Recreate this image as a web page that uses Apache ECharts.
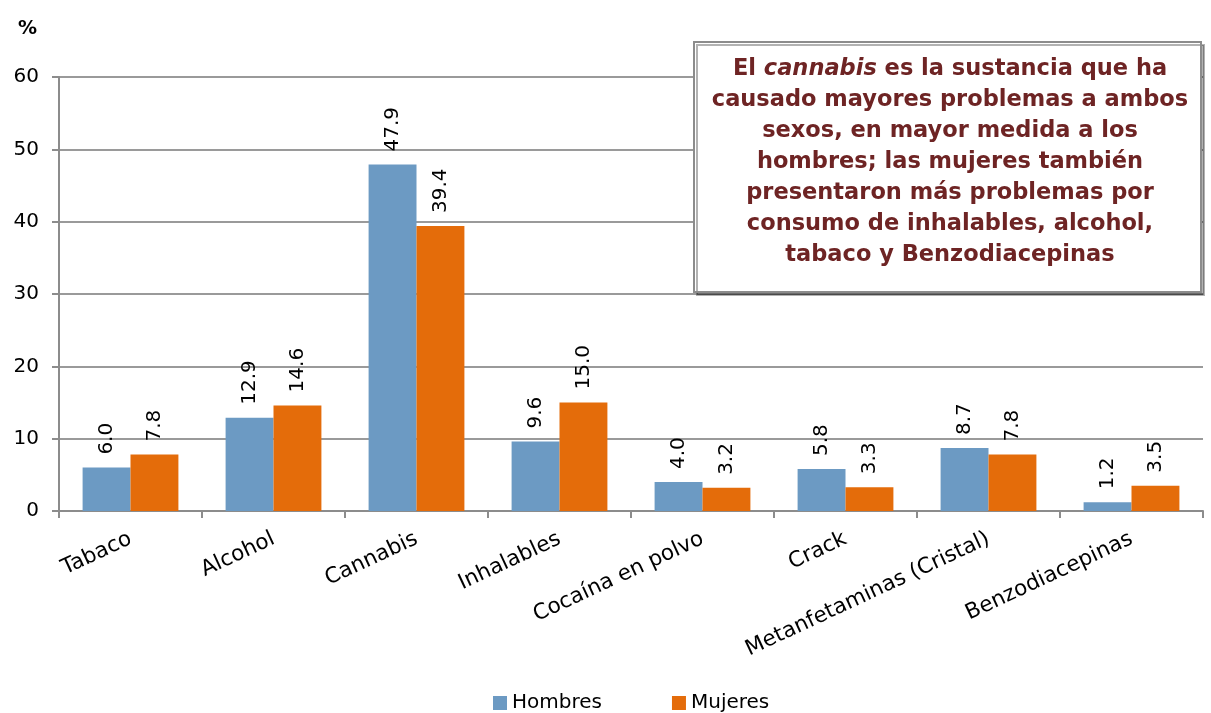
<!DOCTYPE html>
<html>
<head>
<meta charset="utf-8">
<script src="https://cdn.jsdelivr.net/npm/echarts@6/dist/echarts.min.js"></script>
<style>
html,body{margin:0;padding:0;background:#fff;}
#chart{width:1211px;height:713px;}
</style>
</head>
<body>
<div id="chart"></div>
<script>
var categories = ['Tabaco','Alcohol','Cannabis','Inhalables','Cocaína en polvo','Crack','Metanfetaminas (Cristal)','Benzodiacepinas'];
var hombres = [6.0, 12.9, 47.9, 9.6, 4.0, 5.8, 8.7, 1.2];
var mujeres = [7.8, 14.6, 39.4, 15.0, 3.2, 3.3, 7.8, 3.5];
var seriesNames = ['Hombres','Mujeres'];
var yTicks = {min: 0, max: 60, interval: 10};
var unitLabel = '%';
var boxLines = [
  'El {i|cannabis} es la sustancia que ha',
  'causado mayores problemas a ambos',
  'sexos, en mayor medida a los',
  'hombres; las mujeres también',
  'presentaron más problemas por',
  'consumo de inhalables, alcohol,',
  'tabaco y Benzodiacepinas'
];

var FONT = 'DejaVu Sans';
var chart = echarts.init(document.getElementById('chart'), null, {renderer:'canvas'});

function labelCfg(){
  return {
    show: true, position: 'top', rotate: 90, align: 'left', verticalAlign: 'middle',
    distance: 13, color: '#000', fontFamily: FONT, fontSize: 20,
    formatter: function(p){ return p.value.toFixed(1); }
  };
}

var option = {
  backgroundColor: '#fff',
  animation: false,
  title: {
    text: unitLabel, left: 13, top: 15,
    textStyle: {fontFamily: FONT, fontSize: 19, fontWeight: 'bold', color: '#000'}
  },
  grid: {left: 59, right: 8, top: 77, bottom: 202, containLabel: false},
  legend: {
    data: seriesNames, top: 688, left: 488, itemWidth: 14, itemHeight: 14, itemGap: 70,
    icon: 'rect',
    textStyle: {fontFamily: FONT, fontSize: 20, color: '#000'}
  },
  xAxis: {
    type: 'category', data: categories,
    axisLine: {lineStyle: {color: '#8c8c8c', width: 2}},
    axisTick: {show: true, length: 7, lineStyle: {color: '#8c8c8c', width: 2}},
    axisLabel: {rotate: 25, margin: 27, color: '#000', fontFamily: FONT, fontSize: 21.5, interval: 0}
  },
  yAxis: {
    type: 'value', min: yTicks.min, max: yTicks.max, interval: yTicks.interval,
    axisLine: {show: true, lineStyle: {color: '#8c8c8c', width: 2}},
    axisTick: {show: true, length: 7, lineStyle: {color: '#8c8c8c', width: 2}},
    splitLine: {lineStyle: {color: '#9a9a9a', width: 2}},
    axisLabel: {margin: 20, color: '#000', fontFamily: FONT, fontSize: 20}
  },
  series: [
    {name: seriesNames[0], type: 'bar', data: hombres, barGap: '0%', barCategoryGap: '33%',
     itemStyle: {color: '#6c9ac3'}, label: labelCfg()},
    {name: seriesNames[1], type: 'bar', data: mujeres, barGap: '0%', barCategoryGap: '33%',
     itemStyle: {color: '#e46c0a'}, label: labelCfg()}
  ],
  graphic: [
    {type: 'rect', left: 693, top: 41, z: 100,
     shape: {width: 507, height: 250},
     style: {fill: '#fff', stroke: '#8c8c8c', lineWidth: 2,
             shadowColor: 'rgba(0,0,0,0.3)', shadowOffsetX: 3, shadowOffsetY: 3, shadowBlur: 0}},
    {type: 'text', x: 950, y: 162, z: 101,
     style: {
       text: boxLines.join('\n'), align: 'center', verticalAlign: 'middle',
       fill: '#6e2424', fontFamily: FONT, fontSize: 22.5, fontWeight: 'bold', lineHeight: 31,
       rich: {
         i: {fontStyle: 'italic', fontWeight: 'bold', fontFamily: FONT, fontSize: 22.5, fill: '#6e2424', color: '#6e2424', lineHeight: 31}
       }
     }}
  ]
};
chart.setOption(option);
</script>
</body>
</html>
